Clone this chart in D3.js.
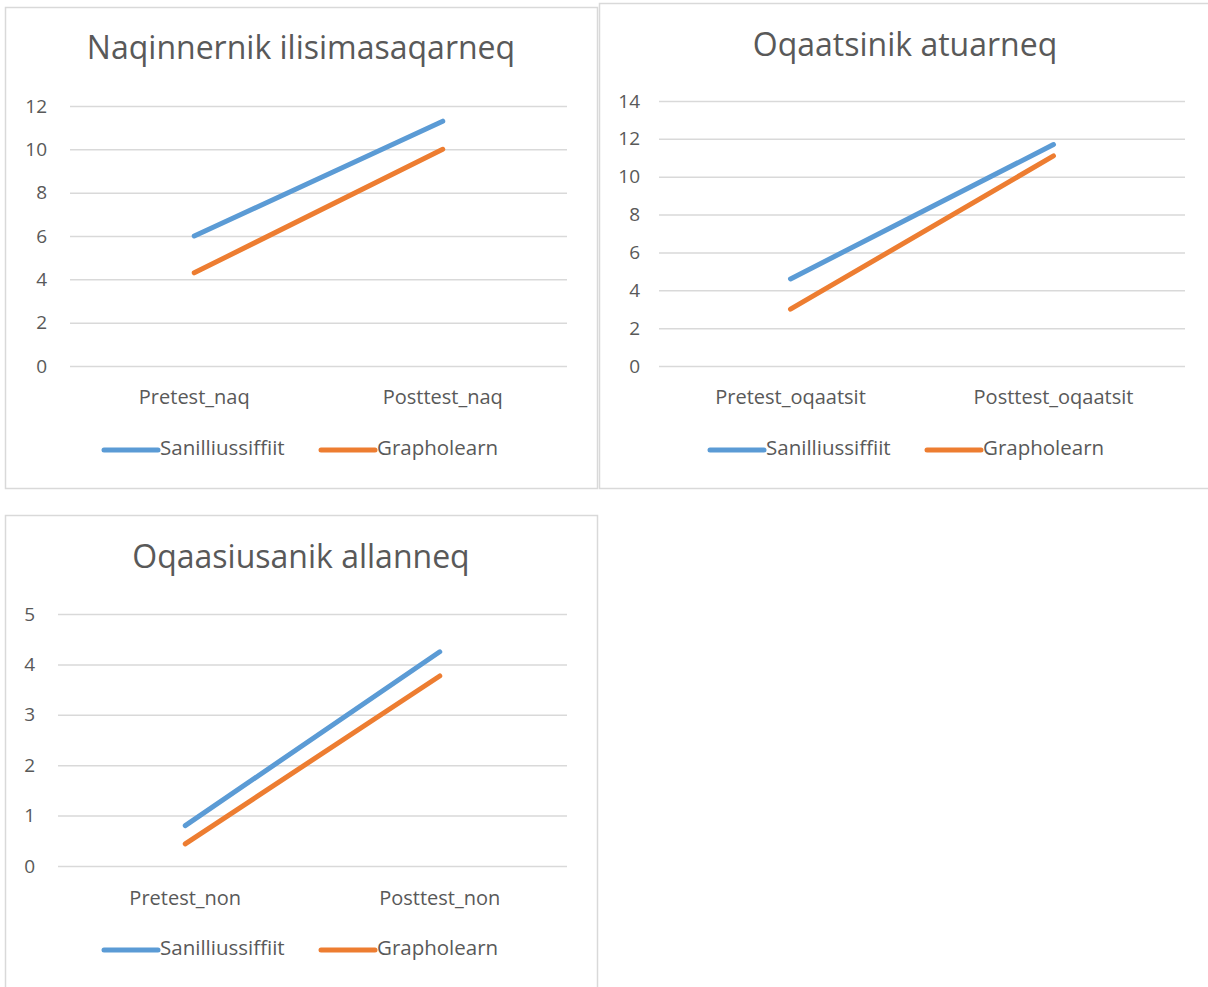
<!DOCTYPE html>
<html><head><meta charset="utf-8">
<script src="https://cdn.jsdelivr.net/npm/d3@7"></script>
<style>
body{margin:0;background:#fff;}
svg{display:block;font-family:"Open Sans","Noto Sans",sans-serif;}
</style></head><body>
<svg id="c" width="1208" height="987"></svg>
<script>
const seriesNames = ["Sanilliussiffiit", "Grapholearn"];
const seriesColors = ["#5B9BD5", "#ED7D31"];

const titles = ["Naqinnernik ilisimasaqarneq", "Oqaatsinik atuarneq", "Oqaasiusanik allanneq"];
const categories1 = ["Pretest_naq", "Posttest_naq"];
const categories2 = ["Pretest_oqaatsit", "Posttest_oqaatsit"];
const categories3 = ["Pretest_non", "Posttest_non"];
const sanilliussiffiit1 = [6.0, 11.3];
const grapholearn1 = [4.3, 10.0];
const sanilliussiffiit2 = [4.6, 11.7];
const grapholearn2 = [3.0, 11.1];
const sanilliussiffiit3 = [0.8, 4.25];
const grapholearn3 = [0.44, 3.77];
const yTicks1 = [0, 2, 4, 6, 8, 10, 12];
const yTicks2 = [0, 2, 4, 6, 8, 10, 12, 14];
const yTicks3 = [0, 1, 2, 3, 4, 5];

const svg = d3.select("#c");
const textCol = "#595959", gridCol = "#D9D9D9";

const panels = [
  {box:[5,7,592,481], title:titles[0], titleY:50, cats:categories1, series:[sanilliussiffiit1, grapholearn1], ticks:yTicks1,
   plot:{x0:70,x1:567,y0:106,y1:366}, labelX:47, catY:397, legY:450, leg:[104,321]},
  {box:[599,3,612,485], title:titles[1], titleY:47, cats:categories2, series:[sanilliussiffiit2, grapholearn2], ticks:yTicks2,
   plot:{x0:659,x1:1185,y0:101,y1:366}, labelX:640, catY:397, legY:450, leg:[710,927]},
  {box:[5,515,592,480], title:titles[2], titleY:559, cats:categories3, series:[sanilliussiffiit3, grapholearn3], ticks:yTicks3,
   plot:{x0:58,x1:567,y0:614,y1:866}, labelX:35, catY:898, legY:950, leg:[104,321]}
];

panels.forEach(p => {
  const g = svg.append("g");
  g.append("rect").attr("x",p.box[0]+0.5).attr("y",p.box[1]+0.5).attr("width",p.box[2]).attr("height",p.box[3])
    .attr("fill","#fff").attr("stroke",gridCol).attr("stroke-width",1.5);
  g.append("text").attr("x",(p.box[0]+p.box[0]+p.box[2])/2).attr("y",p.titleY).attr("text-anchor","middle")
    .attr("dominant-baseline","middle").attr("font-size",32).attr("fill",textCol).text(p.title);

  const x = d3.scaleBand().domain(p.cats).range([p.plot.x0,p.plot.x1]);
  const y = d3.scaleLinear().domain([0, d3.max(p.ticks)]).range([p.plot.y1,p.plot.y0]);

  const ya = g.append("g").attr("transform",`translate(${p.plot.x0},0)`)
    .call(d3.axisLeft(y).tickValues(p.ticks).tickSize(-(p.plot.x1-p.plot.x0)).tickPadding(p.plot.x0-p.labelX).tickFormat(d3.format("d")))
    .attr("font-family",null).attr("font-size",null);
  ya.select(".domain").remove();
  ya.selectAll("line").attr("stroke",gridCol).attr("stroke-width",1.5);
  ya.selectAll("text").attr("fill",textCol).attr("font-size",19);

  const xa = g.append("g").attr("transform",`translate(0,${p.plot.y1})`)
    .call(d3.axisBottom(x).tickSize(0).tickPadding(p.catY-p.plot.y1-7))
    .attr("font-family",null).attr("font-size",null);
  xa.select(".domain").remove();
  xa.selectAll("text").attr("fill",textCol).attr("font-size",20);

  const line = d3.line().x((d,i)=>x(p.cats[i])+x.bandwidth()/2).y(d=>y(d));
  p.series.forEach((s,k)=>{
    g.append("path").datum(s).attr("d",line).attr("fill","none").attr("stroke",seriesColors[k])
      .attr("stroke-width",5).attr("stroke-linecap","round");
  });

  seriesNames.forEach((n,k)=>{
    const lx = p.leg[k];
    g.append("line").attr("x1",lx).attr("x2",lx+54).attr("y1",p.legY).attr("y2",p.legY)
      .attr("stroke",seriesColors[k]).attr("stroke-width",5).attr("stroke-linecap","round");
    g.append("text").attr("x",lx+56).attr("y",p.legY).attr("dominant-baseline","middle")
      .attr("font-size",20.5).attr("fill",textCol).text(n);
  });
});
</script></body></html>
